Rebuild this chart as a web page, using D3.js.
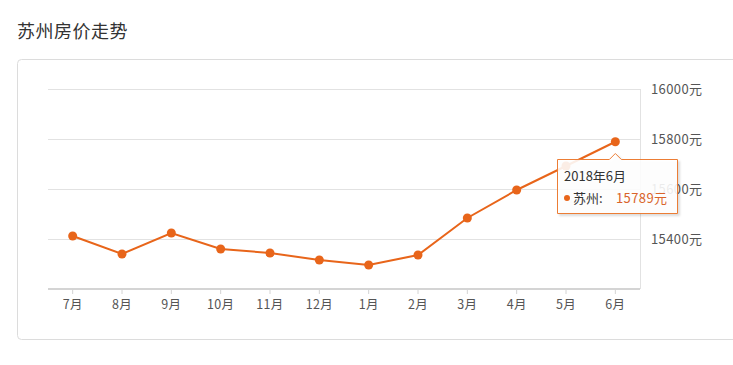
<!DOCTYPE html>
<html>
<head>
<meta charset="utf-8">
<script src="https://cdn.jsdelivr.net/npm/d3@7"></script>
<style>
  body { margin: 0; background: #fff; font-family: "Noto Sans CJK SC", "Noto Sans", sans-serif; }
  svg { display: block; }
</style>
</head>
<body>
<script>
var months = ["7月", "8月", "9月", "10月", "11月", "12月", "1月", "2月", "3月", "4月", "5月", "6月"];
var prices = [15412, 15340, 15424, 15360, 15344, 15316, 15296, 15336, 15484, 15596, 15692, 15789];
var yTicks = [15200, 15400, 15600, 15800, 16000];

var w = 733, h = 365;
var orange = "#e8651a";

var svg = d3.select("body").append("svg")
  .attr("width", w)
  .attr("height", h);

// title
svg.append("text")
  .attr("x", 17).attr("y", 38)
  .attr("font-size", 18)
  .attr("letter-spacing", 0.5)
  .attr("fill", "#333")
  .text("苏州房价走势");

// card
svg.append("rect")
  .attr("x", 17.5).attr("y", 59.5)
  .attr("width", 740).attr("height", 280)
  .attr("rx", 4)
  .attr("fill", "#fff")
  .attr("stroke", "#dcdcdc");

var x = d3.scaleBand().domain(months).range([48, 640]);
var y = d3.scaleLinear().domain([15200, 16000]).range([289, 89]);

// grid lines
svg.append("g").selectAll("line")
  .data(yTicks.slice(1))
  .enter().append("line")
  .attr("x1", 48).attr("x2", 640)
  .attr("y1", function(d) { return Math.round(y(d)) + 0.5; })
  .attr("y2", function(d) { return Math.round(y(d)) + 0.5; })
  .attr("stroke", "#e2e2e2");

// right border of plot
svg.append("line")
  .attr("x1", 640.5).attr("x2", 640.5)
  .attr("y1", 89).attr("y2", 289)
  .attr("stroke", "#e2e2e2");

// x axis
var xAxis = svg.append("g")
  .attr("transform", "translate(0,289)")
  .call(d3.axisBottom(x).tickSize(5).tickPadding(6));
xAxis.select(".domain").attr("stroke", "#d4d4d4").attr("stroke-width", 2).attr("d", "M48,0H640");
xAxis.selectAll(".tick line").attr("stroke", "#d4d4d4");
xAxis.selectAll(".tick text")
  .attr("fill", "#555")
  .attr("font-size", 12.5)
  .attr("letter-spacing", 0.3)
  .attr("font-family", "Noto Sans CJK SC");

// y axis on the right
var yAxis = svg.append("g")
  .attr("transform", "translate(640,0)")
  .call(d3.axisRight(y).tickValues(yTicks.slice(1)).tickSize(0).tickPadding(11)
    .tickFormat(function(d) { return d + "元"; }));
yAxis.select(".domain").remove();
yAxis.selectAll(".tick text")
  .attr("fill", "#555")
  .attr("font-size", 13)
  .attr("letter-spacing", 0.4)
  .attr("font-family", "Noto Sans CJK SC");

// line
var line = d3.line()
  .x(function(d, i) { return x(months[i]) + x.bandwidth() / 2; })
  .y(function(d) { return y(d); });

svg.append("path")
  .datum(prices)
  .attr("d", line)
  .attr("fill", "none")
  .attr("stroke", orange)
  .attr("stroke-width", 2);

svg.append("g").selectAll("circle")
  .data(prices)
  .enter().append("circle")
  .attr("cx", function(d, i) { return x(months[i]) + x.bandwidth() / 2; })
  .attr("cy", function(d) { return y(d); })
  .attr("r", 4.5)
  .attr("fill", orange);

// tooltip for the last point
var last = prices.length - 1;
var px = x(months[last]) + x.bandwidth() / 2;
var py = y(prices[last]);

var defs = svg.append("defs");
var f = defs.append("filter").attr("id", "sh").attr("x", "-20%").attr("y", "-20%").attr("width", "140%").attr("height", "150%");
f.append("feDropShadow").attr("dx", 2).attr("dy", 2).attr("stdDeviation", 1.2).attr("flood-color", "#000").attr("flood-opacity", 0.15);

var tx = 557.5, ty = 159.5, tw = 120, th = 54;
var tipPath = "M" + tx + "," + ty +
  "H" + (px - 6) + "L" + px + "," + (ty - 6) + "L" + (px + 6) + "," + ty +
  "H" + (tx + tw) + "V" + (ty + th) + "H" + tx + "Z";
svg.append("path")
  .attr("d", tipPath)
  .attr("fill", "rgba(255,255,255,0.88)")
  .attr("stroke", "#ec7d36")
  .attr("filter", "url(#sh)");

svg.append("text")
  .attr("x", 564).attr("y", 181)
  .attr("font-size", 13).attr("fill", "#333")
  .text("2018年6月");
svg.append("circle")
  .attr("cx", 567).attr("cy", 198).attr("r", 3)
  .attr("fill", orange);
svg.append("text")
  .attr("x", 573).attr("y", 203)
  .attr("font-size", 13).attr("fill", "#333")
  .text("苏州:");
svg.append("text")
  .attr("x", 616).attr("y", 203)
  .attr("font-size", 13).attr("letter-spacing", 0.4).attr("fill", "#d9642a")
  .text(prices[last] + "元");
</script>
</body>
</html>
